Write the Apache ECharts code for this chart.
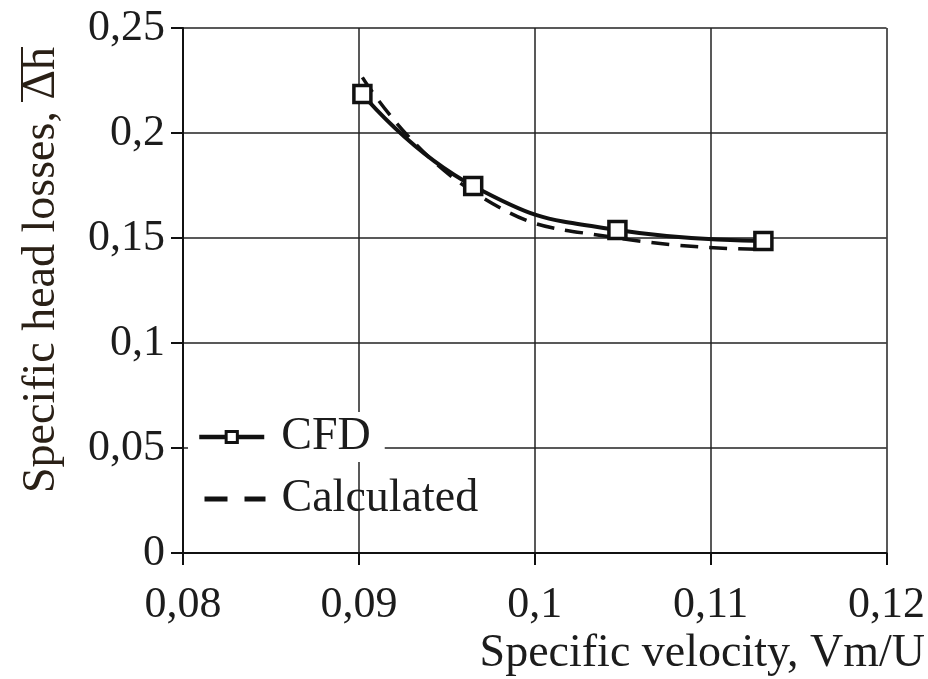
<!DOCTYPE html>
<html>
<head>
<meta charset="utf-8">
<script src="https://cdn.jsdelivr.net/npm/echarts@6/dist/echarts.min.js"></script>
<style>html,body{margin:0;padding:0;background:#fff}#c{width:928px;height:679px}</style>
</head>
<body>
<div id="c"></div>
<script>
// Data
const cfdX = [0.0902, 0.0965, 0.1047, 0.1130];
const cfdY = [0.2186, 0.1748, 0.1538, 0.1486];
const calcX = [0.0902, 0.0965, 0.1047, 0.1130];
const calcY = [0.2265, 0.1720, 0.1500, 0.1446];
const seriesNames = ['CFD', 'Calculated'];
const xTitle = 'Specific velocity, Vm/U';
const yTitle = 'Specific head losses, \u0394h';

const FONT = '"Liberation Serif", "Times New Roman", serif';
const TXT = '#1c1c1c';
const fmt = v => String(+v.toFixed(3)).replace('.', ',');

const chart = echarts.init(document.getElementById('c'));
chart.setOption({
  animation: false,
  backgroundColor: '#fff',
  grid: { left: 183, right: 40, top: 28, bottom: 126, containLabel: false },
  xAxis: {
    type: 'value', min: 0.08, max: 0.12, interval: 0.01,
    axisLine: { show: true, onZero: false, lineStyle: { color: '#111', width: 2 } },
    axisTick: { show: true, length: 12, inside: false, lineStyle: { color: '#111', width: 2 } },
    splitLine: { show: true, lineStyle: { color: '#222', width: 1.5 } },
    axisLabel: { fontFamily: FONT, fontSize: 44, color: TXT, margin: 30, formatter: fmt }
  },
  yAxis: {
    type: 'value', min: 0, max: 0.25, interval: 0.05,
    axisLine: { show: true, lineStyle: { color: '#111', width: 2 } },
    axisTick: { show: true, length: 12, lineStyle: { color: '#111', width: 2 } },
    splitLine: { show: true, lineStyle: { color: '#222', width: 1.5 } },
    axisLabel: { fontFamily: FONT, fontSize: 44, color: TXT, margin: 18, formatter: fmt }
  },
  legend: [
    {
      data: [{ name: seriesNames[0], itemStyle: { borderWidth: 3 } }],
      left: 188, top: 412, orient: 'vertical',
      backgroundColor: '#fff', padding: [2, 14, 2, 9],
      itemWidth: 65, itemHeight: 14, itemGap: 18,
      lineStyle: { width: 4.5 },
      textStyle: { fontFamily: FONT, fontSize: 46, color: TXT, padding: [0, 0, 0, 12] }
    },
    {
      data: [{ name: seriesNames[1], itemStyle: { opacity: 0 } }],
      left: 193, top: 474, orient: 'vertical',
      padding: [2, 8, 2, 9],
      itemWidth: 61, itemHeight: 14, itemGap: 18,
      lineStyle: { width: 5, type: [23, 17] },
      textStyle: { fontFamily: FONT, fontSize: 46, color: TXT, padding: [0, 0, 0, 11] }
    }
  ],
  series: [
    {
      name: seriesNames[1], type: 'line', smooth: 0.5,
      data: calcX.map((x, i) => [x, calcY[i]]),
      symbol: 'none',
      lineStyle: { color: '#111', width: 3.5, type: [18, 11] },
      itemStyle: { color: '#111' },
      z: 2
    },
    {
      name: seriesNames[0], type: 'line', smooth: 0.5,
      data: cfdX.map((x, i) => [x, cfdY[i]]),
      symbol: 'rect', symbolSize: 17,
      lineStyle: { color: '#111', width: 4 },
      itemStyle: { color: '#fff', borderColor: '#111', borderWidth: 3.5 },
      z: 3
    }
  ],
  graphic: [
    {
      type: 'text', right: 3, top: 631,
      style: { text: xTitle, font: '46px ' + FONT, fill: TXT }
    },
    {
      type: 'text', x: 42, y: 47, rotation: Math.PI / 2,
      style: { text: yTitle, font: '46px ' + FONT, fill: '#2a2016', align: 'right', verticalAlign: 'middle' }
    },
    {
      type: 'line', shape: { x1: 22, y1: 47, x2: 22, y2: 102 },
      style: { stroke: '#2a2016', lineWidth: 2 }
    }
  ]
});
</script>
</body>
</html>
